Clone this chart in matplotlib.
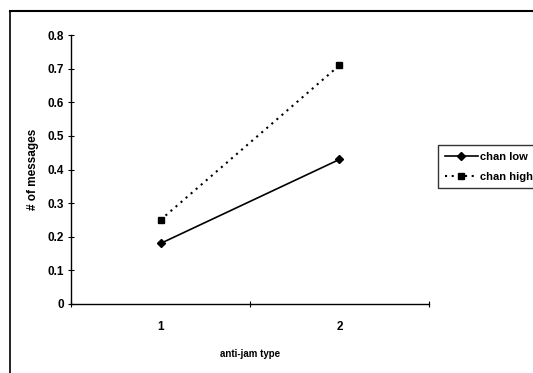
import matplotlib
matplotlib.use("Agg")
import matplotlib.pyplot as plt
from matplotlib.lines import Line2D

categories = ["1", "2"]
chan_low = [0.18, 0.43]
chan_high = [0.25, 0.71]
yticks = [0, 0.1, 0.2, 0.3, 0.4, 0.5, 0.6, 0.7, 0.8]

plt.rcParams['font.family'] = ['Liberation Sans', 'DejaVu Sans']
plt.rcParams['font.weight'] = 'bold'

W, H = 533, 373
fig = plt.figure(figsize=(W/100, H/100), dpi=100)
ax = fig.add_axes([71/W, 1-304/H, (429-71)/W, (304-35)/H])

x = [0.5, 1.5]
ax.plot(x, chan_low, color='black', lw=1.2, marker='D', markersize=4.5, label='chan low')
ax.plot(x, chan_high, color='black', lw=1.5, ls=(0, (1, 2.2)), marker='s', markersize=5, label='chan high')

ax.set_xlim(0, 2)
ax.set_ylim(0, 0.8)
ax.set_yticks(yticks)
ax.set_yticklabels(["0" if v == 0 else f"{v:.1f}" for v in yticks], fontsize=8.5, fontweight='bold')
ax.set_xticks([0, 1, 2])
ax.set_xticklabels([])
ax.set_xticks(x, minor=True)
ax.set_xticklabels(categories, minor=True, fontsize=8.5, fontweight='bold')
ax.tick_params(axis='x', which='minor', length=0, pad=12)
ax.tick_params(axis='x', which='major', length=4, direction='inout', width=0.8)
ax.tick_params(axis='y', length=4, direction='inout', width=0.8, pad=3)

for s in ['top', 'right']:
    ax.spines[s].set_visible(False)
for s in ['left', 'bottom']:
    ax.spines[s].set_linewidth(1.0)

ax.set_ylabel('# of messages', fontsize=8.5, fontweight='bold', labelpad=6)
ax.set_xlabel('anti-jam type', fontsize=7, fontweight='bold', labelpad=12)

leg = fig.legend(loc='upper left', bbox_to_anchor=(438/W, 1-145/H), bbox_transform=fig.transFigure,
                 frameon=True, fancybox=False, edgecolor='black', fontsize=8, handlelength=3.0,
                 borderpad=0.6, labelspacing=0.9, handletextpad=0.15, borderaxespad=0)
leg.get_frame().set_linewidth(1.0)

# outer chart frame (left and top edges)
fig.add_artist(Line2D([10/W, 10/W], [0, 1-11/H], transform=fig.transFigure, color='black', lw=1.2))
fig.add_artist(Line2D([10/W, 1], [1-11/H, 1-11/H], transform=fig.transFigure, color='black', lw=1.5))

fig.savefig('out.png', dpi=100)
